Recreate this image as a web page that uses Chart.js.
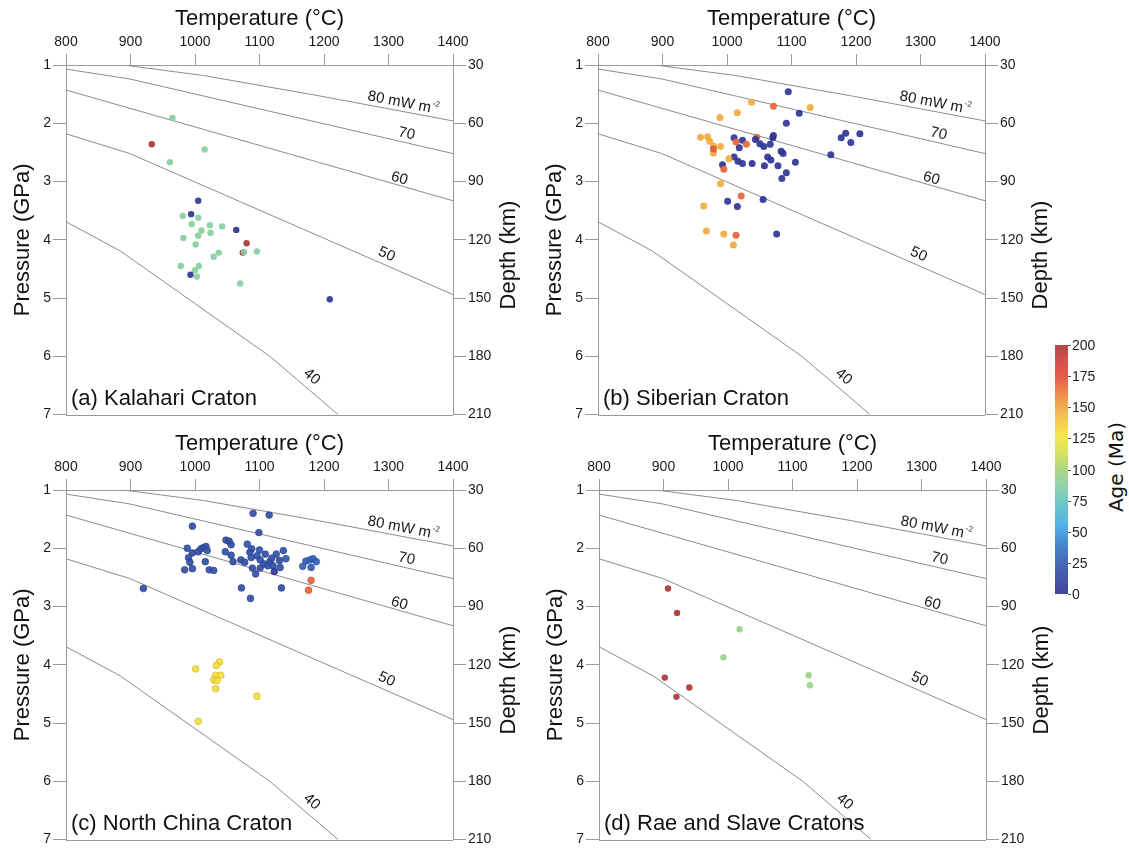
<!DOCTYPE html>
<html>
<head>
<meta charset="utf-8">
<script src="https://cdn.jsdelivr.net/npm/chart.js@4.4.1/dist/chart.umd.min.js"></script>
<style>
html, body { margin: 0; padding: 0; background: #fff; }
body { width: 1129px; height: 852px; position: relative; overflow: hidden; font-family: "Liberation Sans", Arial, sans-serif; }
.panel { position: absolute; width: 530px; height: 425px; }
#cbar { position: absolute; left: 1055px; top: 345px; width: 13px; height: 249px; z-index: 2; }
.cbt { position: absolute; left: 1072px; font: 14px "Liberation Sans", Arial, sans-serif; color: #222; transform: translateY(-50%); z-index: 2; }
.cbtick { position: absolute; left: 1068px; width: 3px; height: 1px; background: #555; z-index: 2; }
#cbtitle { position: absolute; left: 1116px; top: 467px; transform: translate(-50%, -50%) rotate(-90deg); font: 20px "DejaVu Sans", sans-serif; color: #111; white-space: nowrap; z-index: 2; }
</style>
</head>
<body>
<div class="panel" style="left:0;top:0"><canvas id="pa" width="530" height="425"></canvas></div>
<div class="panel" style="left:532px;top:0"><canvas id="pb" width="530" height="425"></canvas></div>
<div class="panel" style="left:0;top:425px"><canvas id="pc" width="530" height="425"></canvas></div>
<div class="panel" style="left:533px;top:425px"><canvas id="pd" width="530" height="425"></canvas></div>
<div id="cbar"></div>
<div id="cbtitle">Age (Ma)</div>
<script>
// axis ticks
const tempTicks = [800, 900, 1000, 1100, 1200, 1300, 1400];
const pressureTicks = [1, 2, 3, 4, 5, 6, 7];
const depthTicks = [30, 60, 90, 120, 150, 180, 210];
const ageTicks = [0, 25, 50, 75, 100, 125, 150, 175, 200];

// geotherms (T in C, P in GPa)
const geo80T = [889, 1013, 1193, 1400];
const geo80P = [1.0, 1.18, 1.53, 1.96];
const geo70T = [800, 899, 1400];
const geo70P = [1.07, 1.24, 2.52];
const geo60T = [800, 1400];
const geo60P = [1.43, 3.33];
const geo50T = [800, 899, 1400];
const geo50P = [2.18, 2.52, 4.94];
const geo40T = [800, 884, 1116, 1222];
const geo40P = [3.69, 4.19, 6.0, 7.0];
const geoLabels = ['80 mW m', '70', '60', '50', '40'];
const geoLabelT = [1323, 1328, 1317, 1297, 1181];
const geoLabelP = [1.65, 2.18, 2.95, 4.25, 6.35];

// (a) Kalahari
const kalT = [965, 933, 1015, 961, 1005, 994, 981, 1005, 995, 1023, 1042, 1010, 1024, 1064, 982, 1005, 1001, 1080, 1074, 1076, 1096, 1037, 1029, 978, 1006, 1000, 993, 1003, 1070, 1209];
const kalP = [1.91, 2.36, 2.45, 2.67, 3.33, 3.56, 3.59, 3.62, 3.73, 3.75, 3.77, 3.84, 3.88, 3.83, 3.97, 3.93, 4.08, 4.06, 4.22, 4.21, 4.20, 4.22, 4.29, 4.45, 4.45, 4.52, 4.60, 4.63, 4.75, 5.02];
const kalAge = [87, 198, 87, 87, 3, 3, 87, 87, 87, 87, 87, 87, 87, 3, 87, 87, 87, 198, 198, 87, 87, 87, 87, 87, 87, 87, 3, 87, 87, 3];

// (b) Siberian
const sibT = [1095, 1038, 1072, 1129, 1112, 989, 1016, 1092, 959, 970, 973, 979, 979, 979, 990, 1011, 1014, 1024, 1019, 1030, 1046, 1044, 1051, 1057, 1067, 1072, 1071, 1084, 1087, 1011, 1003, 1017, 1024, 1039, 1063, 1068, 1058, 1079, 1106, 993, 995, 1092, 1085, 990, 1184, 1206, 1177, 1192, 1161, 1022, 1001, 1016, 1056, 964, 968, 995, 1014, 1010, 1077];
const sibP = [1.46, 1.64, 1.71, 1.73, 1.83, 1.90, 1.82, 2.00, 2.24, 2.23, 2.31, 2.39, 2.51, 2.44, 2.40, 2.25, 2.32, 2.29, 2.42, 2.36, 2.24, 2.28, 2.35, 2.40, 2.36, 2.21, 2.25, 2.48, 2.52, 2.58, 2.61, 2.65, 2.69, 2.69, 2.58, 2.63, 2.73, 2.73, 2.67, 2.71, 2.79, 2.85, 2.95, 3.04, 2.17, 2.18, 2.25, 2.33, 2.54, 3.25, 3.34, 3.43, 3.31, 3.42, 3.85, 3.90, 3.92, 4.09, 3.90];
const sibAge = [3, 148, 168, 148, 3, 148, 148, 3, 148, 148, 148, 148, 148, 171, 148, 3, 168, 3, 3, 168, 168, 3, 3, 3, 3, 3, 3, 3, 3, 3, 148, 3, 3, 3, 3, 3, 3, 3, 3, 3, 168, 3, 3, 148, 3, 3, 3, 3, 3, 168, 3, 3, 3, 148, 148, 148, 168, 148, 3];

// (c) North China
const ncT = [1090, 1115, 996, 1099, 1048, 1053, 1056, 988, 996, 1009, 1013, 1017, 1019, 1005, 1016, 990, 992, 984, 996, 1022, 1029, 1047, 1056, 1059, 1071, 1077, 1081, 1088, 1085, 1100, 1096, 1087, 1109, 1101, 1107, 1116, 1121, 1126, 1137, 1141, 1131, 1123, 1132, 1113, 1089, 1101, 1094, 1119, 1167, 1172, 1178, 1183, 1188, 1180, 920, 1072, 1086, 1134, 1180, 1176, 1038, 1033, 1032, 1040, 1029, 1034, 1032, 1005, 1096, 1001];
const ncP = [1.40, 1.43, 1.62, 1.73, 1.86, 1.88, 1.94, 2.00, 2.08, 2.01, 1.99, 1.97, 2.04, 2.06, 2.23, 2.16, 2.24, 2.37, 2.35, 2.37, 2.38, 2.06, 2.12, 2.23, 2.20, 2.24, 1.93, 2.01, 2.07, 2.03, 2.13, 2.16, 2.10, 2.20, 2.27, 2.23, 2.30, 2.10, 2.04, 2.18, 2.21, 2.40, 2.33, 2.30, 2.34, 2.34, 2.44, 2.17, 2.31, 2.22, 2.20, 2.18, 2.23, 2.33, 2.69, 2.68, 2.86, 2.68, 2.55, 2.72, 3.95, 4.01, 4.18, 4.18, 4.26, 4.27, 4.41, 4.97, 4.54, 4.07];
const ncAge = [18, 18, 18, 18, 20, 20, 20, 20, 18, 22, 22, 20, 22, 20, 18, 20, 18, 18, 18, 18, 20, 22, 20, 18, 18, 20, 22, 20, 18, 22, 20, 20, 18, 20, 18, 20, 18, 22, 22, 25, 18, 4, 20, 20, 18, 18, 18, 20, 28, 28, 30, 28, 30, 26, 18, 18, 18, 18, 168, 168, 130, 130, 130, 130, 130, 130, 130, 130, 130, 130];

// (d) Rae and Slave
const raeT = [907, 921, 902, 940, 920, 1018, 993, 1125, 1127];
const raeP = [2.69, 3.11, 4.22, 4.39, 4.55, 3.39, 3.87, 4.18, 4.35];
const raeAge = [198, 198, 198, 198, 198, 95, 95, 95, 95];

// colour map for age
const cmapStops = [
  [0, [45, 48, 145]], [20, [50, 80, 168]], [40, [50, 120, 200]], [55, [60, 170, 230]],
  [70, [85, 190, 200]], [85, [128, 206, 166]], [100, [165, 210, 120]], [115, [215, 225, 75]],
  [128, [245, 228, 60]], [145, [242, 180, 62]], [160, [238, 130, 55]], [175, [228, 72, 55]],
  [188, [210, 60, 60]], [200, [164, 52, 52]]
];
function ageRGB(a) {
  for (let i = 1; i < cmapStops.length; i++) {
    const [a1, c1] = cmapStops[i];
    const [a0, c0] = cmapStops[i - 1];
    if (a <= a1) {
      const f = (a - a0) / (a1 - a0);
      return c0.map((c, k) => Math.round(c + (c1[k] - c) * f));
    }
  }
  return cmapStops[cmapStops.length - 1][1];
}
function ageColor(a, alpha) {
  const c = ageRGB(a);
  return `rgba(${c[0]},${c[1]},${c[2]},${alpha})`;
}
function ageEdge(a) {
  const c = ageRGB(a).map(v => Math.round(v * 0.8));
  return `rgb(${c[0]},${c[1]},${c[2]})`;
}

const geotherms = [[geo80T, geo80P], [geo70T, geo70P], [geo60T, geo60P], [geo50T, geo50P], [geo40T, geo40P]];
const geoAngles = [11, 13, 16, 24, 40];

const decor = {
  id: 'decor',
  afterDraw(chart, args, opts) {
    const {ctx, chartArea: a, scales: {x, y}} = chart;
    ctx.save();
    // bottom frame line
    ctx.strokeStyle = '#9a9a9a';
    ctx.lineWidth = 1;
    const yb = Math.round(a.bottom) + 0.5;
    ctx.beginPath(); ctx.moveTo(a.left, yb); ctx.lineTo(a.right, yb); ctx.stroke();

    // geotherm labels
    ctx.fillStyle = '#1a1a1a';
    ctx.textBaseline = 'middle';
    geoLabels.forEach((txt, i) => {
      const px = x.getPixelForValue(geoLabelT[i]);
      const py = y.getPixelForValue(geoLabelP[i]);
      ctx.save();
      ctx.translate(px, py);
      ctx.rotate(geoAngles[i] * Math.PI / 180);
      ctx.font = '15px "Liberation Sans", Arial, sans-serif';
      if (i === 0) {
        const w1 = ctx.measureText(txt).width;
        ctx.font = '8px "Liberation Sans", Arial, sans-serif';
        const w2 = ctx.measureText('-2').width;
        const x0 = -(w1 + w2 + 1) / 2;
        ctx.textAlign = 'left';
        ctx.fillText('-2', x0 + w1 + 1, -5);
        ctx.font = '15px "Liberation Sans", Arial, sans-serif';
        ctx.fillText(txt, x0, 0);
      } else {
        ctx.textAlign = 'center';
        ctx.fillText(txt, 0, 0);
      }
      ctx.restore();
    });

    // panel name
    ctx.font = '22px "Liberation Sans", Arial, sans-serif';
    ctx.fillStyle = '#111';
    ctx.textAlign = 'left';
    ctx.fillText(opts.name, a.left + 5, a.bottom - 16);

    // depth title (reads bottom to top)
    ctx.save();
    ctx.translate(a.right + 56, a.top + 190);
    ctx.rotate(-Math.PI / 2);
    ctx.textAlign = 'center';
    ctx.fillText('Depth (km)', 0, 0);
    ctx.restore();
    ctx.restore();
  }
};

Chart.defaults.font.family = '"Liberation Sans", Arial, sans-serif';
Chart.defaults.color = '#1a1a1a';

function makePanel(id, name, T, P, age, radius, edge) {
  const lines = geotherms.map(([gt, gp]) => ({
    data: gt.map((t, i) => ({x: t, y: gp[i]})),
    showLine: true,
    borderColor: '#8c8c8c',
    borderWidth: 1,
    pointRadius: 0,
    fill: false,
    tension: 0,
    order: 2
  }));
  const pts = {
    data: T.map((t, i) => ({x: t, y: P[i]})),
    backgroundColor: age.map(a => ageColor(a, 0.92)),
    borderColor: age.map(a => ageEdge(a)),
    borderWidth: edge,
    pointRadius: radius,
    order: 1
  };
  const gridOpts = (len) => ({drawOnChartArea: false, drawTicks: true, tickLength: len, color: '#9a9a9a', lineWidth: 1});
  const borderOpts = {display: true, color: '#9a9a9a', width: 1};
  new Chart(document.getElementById(id), {
    type: 'scatter',
    data: {datasets: [...lines, pts]},
    options: {
      responsive: false,
      animation: false,
      events: [],
      layout: {padding: {top: 0, left: 0, right: 0, bottom: 7}},
      plugins: {legend: {display: false}, tooltip: {enabled: false}, decor: {name: name}},
      scales: {
        x: {
          type: 'linear', position: 'top', min: 800, max: 1400,
          afterBuildTicks: s => { s.ticks = tempTicks.map(v => ({value: v})); },
          ticks: {font: {size: 14}, padding: 3, color: '#1a1a1a', maxRotation: 0, callback: v => String(v)},
          grid: gridOpts(11), border: borderOpts,
          title: {display: true, text: 'Temperature (°C)', font: {size: 22}, color: '#111', padding: {top: 6, bottom: 0}},
          afterFit: s => { s.height = 65; }
        },
        y: {
          type: 'linear', position: 'left', min: 1, max: 7, reverse: true,
          afterBuildTicks: s => { s.ticks = pressureTicks.map(v => ({value: v})); },
          ticks: {font: {size: 14}, padding: 2, color: '#1a1a1a', callback: v => String(v)},
          grid: gridOpts(13), border: borderOpts,
          title: {display: true, text: 'Pressure (GPa)', font: {size: 22}, color: '#111', padding: {top: 10, bottom: 0}},
          afterFit: s => { s.width = 66; }
        },
        y2: {
          type: 'linear', position: 'right', min: 30, max: 210, reverse: true,
          afterBuildTicks: s => { s.ticks = depthTicks.map(v => ({value: v})); },
          ticks: {font: {size: 14}, padding: 2, color: '#1a1a1a', callback: v => String(v)},
          grid: gridOpts(13), border: borderOpts,
          afterFit: s => { s.width = 77; }
        }
      }
    },
    plugins: [decor]
  });
}

makePanel('pa', '(a) Kalahari Craton', kalT, kalP, kalAge, 3.2, 0);
makePanel('pb', '(b) Siberian Craton', sibT, sibP, sibAge, 3.5, 0);
makePanel('pc', '(c) North China Craton', ncT, ncP, ncAge, 3.4, 0.6);
makePanel('pd', '(d) Rae and Slave Cratons', raeT, raeP, raeAge, 3.2, 0);

// colour bar
const bar = document.getElementById('cbar');
const grad = [];
for (let a = 200; a >= 0; a -= 5) grad.push(ageColor(a, 0.9) + ' ' + ((200 - a) / 2) + '%');
bar.style.background = 'linear-gradient(to bottom,' + grad.join(',') + ')';
ageTicks.forEach(v => {
  const yy = 345 + (200 - v) / 200 * 249;
  const lab = document.createElement('div');
  lab.className = 'cbt';
  lab.style.top = yy + 'px';
  lab.textContent = v;
  document.body.appendChild(lab);
  const tk = document.createElement('div');
  tk.className = 'cbtick';
  tk.style.top = Math.round(yy) + 'px';
  document.body.appendChild(tk);
});
</script>
</body>
</html>
